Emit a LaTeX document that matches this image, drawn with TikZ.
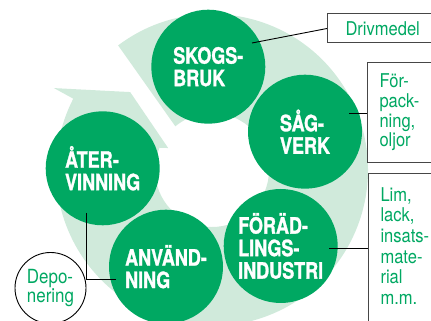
\documentclass[tikz,border=0pt]{standalone}
\usepackage{fontspec}
\setmainfont{TeX Gyre Heros}[FakeStretch=0.87]
\newfontfamily\blackfont{TeX Gyre Heros}[FakeStretch=0.8,FakeBold=1.2]
\definecolor{circgreen}{RGB}{0,168,98}
\definecolor{ringgreen}{RGB}{208,234,219}
\definecolor{labelgreen}{RGB}{0,168,98}
\definecolor{framegray}{RGB}{70,70,70}

\begin{document}
\begin{tikzpicture}[x=1pt,y=1pt,
    station/.style={circle,fill=circgreen,minimum size=114,inner sep=0pt,text=white,align=left,
        font=\blackfont\bfseries\fontsize{22.5}{22.5}\selectfont},
    infobox/.style={draw=framegray,line width=1pt,rectangle,text=labelgreen,align=left,
        font=\fontsize{19}{19.6}\selectfont},
    depobox/.style={circle,draw=black,line width=0.9pt,minimum size=71,inner sep=0pt,
        text=labelgreen,align=left,font=\fontsize{19.5}{18.3}\selectfont},
    link/.style={draw=black,line width=0.9pt}]
    \useasboundingbox (0,0) rectangle (431,321);
    \clip (0,0) rectangle (431,321);
    \fill[ringgreen,shift={(212,151)}] (127:156) arc[start angle=127,end angle=-207.2,radius=156]
        -- (152.6:178) -- (136.4:113) -- (153.4:49) -- (-203:57)
        arc[start angle=-203,end angle=130,radius=57] -- cycle;
    \node[station] (skogsbruk) at (208.3,254.3) {SKOGS-\\BRUK};
    \node[station] (sagverk) at (305,189.3) {SÅG-\\VERK};
    \node[station] (foradling) at (280.7,75) {FÖRÄD-\\LINGS-\\INDUSTRI};
    \node[station] (anvandning) at (166,54.3) {ANVÄND-\\NING};
    \node[station] (atervinning) at (102.7,152.7) {ÅTER-\\VINNING};
    \node[infobox,anchor=west,text width=100,inner xsep=18,minimum height=29] (drivmedel) at (327,292.5) {Drivmedel};
    \node[infobox,anchor=north west,text width=60,inner xsep=12,minimum height=100] (forpackning) at (367,259) {För-\\pack-\\ning,\\oljor};
    \node[infobox,anchor=north west,inner xsep=12,inner ysep=13.7,font=\fontsize{19}{20.7}\selectfont] (lim) at (368,148)
        {\parbox[t][190pt][t]{60pt}{\raggedright Lim,\\lack,\\insats-\\mate-\\rial\\m.m.}};
    \node[depobox] (deponering) at (50.5,33) {Depo-\\nering};
    \coordinate (skogsend) at ([shift={(43.7,23.7)}]skogsbruk.center);
    \coordinate (sagend) at ([shift={(44,18.7)}]sagverk.center);
    \coordinate (foradend) at ([shift={(48.3,-2)}]foradling.center);
    \coordinate (aterend) at ([shift={(-16.7,-44.7)}]atervinning.center);
    \coordinate (anvend) at ([shift={(-50,-12.3)}]anvandning.center);
    \draw[link] (skogsend) -- (drivmedel.west);
    \draw[link] (sagend) -- (sagend -| forpackning.west);
    \draw[link] (foradend) -- (foradend -| lim.west);
    \draw[link] (aterend) |- (anvend);
\end{tikzpicture}
\end{document}
